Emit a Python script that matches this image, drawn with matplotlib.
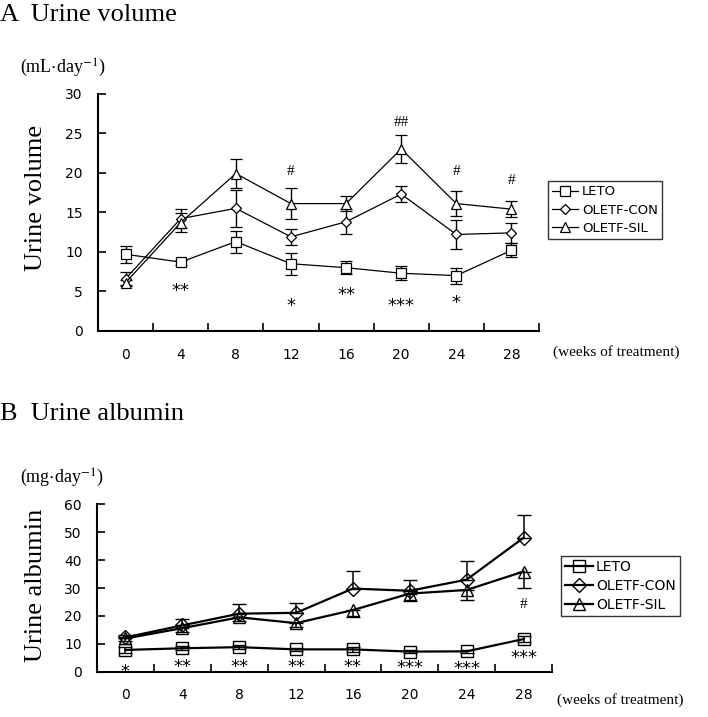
import numpy as np
import matplotlib.pyplot as plt

plt.rcParams['font.family'] = 'DejaVu Sans'
plt.rcParams['mathtext.fontset'] = 'stix'

weeks = ['0', '4', '8', '12', '16', '20', '24', '28']
groups = ['LETO', 'OLETF-CON', 'OLETF-SIL']

# A: urine volume (mL/day)
leto_vol = [9.7, 8.7, 11.3, 8.5, 8.0, 7.3, 7.0, 10.2]
leto_vol_err = [1.1, 0.3, 1.4, 1.4, 0.8, 0.9, 1.0, 0.9]
con_vol = [6.6, 14.2, 15.5, 11.9, 13.8, 17.3, 12.2, 12.4]
con_vol_err = [0.9, 1.2, 2.3, 1.0, 1.6, 1.0, 1.8, 1.3]
sil_vol = [6.1, 13.7, 19.9, 16.1, 16.1, 23.0, 16.1, 15.4]
sil_vol_err = [0.3, 1.2, 1.8, 2.0, 0.9, 1.8, 1.6, 1.0]
stars_vol = [(1, 5.0, '**'), (3, 3.2, '*'), (4, 4.5, '**'), (5, 3.2, '***'), (6, 3.6, '*')]
hash_vol = [(3, 20.2, '#'), (5, 26.4, '##'), (6, 20.2, '#'), (7, 19.0, '#')]

# B: urine albumin (mg/day)
leto_alb = [7.8, 8.4, 8.8, 8.0, 8.0, 7.2, 7.3, 11.7]
leto_alb_err = [1.0, 0.8, 0.8, 0.6, 0.8, 0.6, 0.6, 1.0]
con_alb = [12.3, 16.6, 20.8, 21.1, 29.8, 29.0, 33.0, 48.0]
con_alb_err = [1.0, 2.3, 3.4, 3.7, 6.3, 3.7, 6.6, 8.0]
sil_alb = [11.9, 15.6, 19.5, 17.4, 22.1, 28.0, 29.3, 35.9]
sil_alb_err = [0.8, 1.3, 1.5, 1.2, 2.6, 2.7, 3.6, 6.0]
stars_alb = [(0, 0.0, '*'), (1, 1.8, '**'), (2, 1.8, '**'), (3, 1.6, '**'), (4, 1.8, '**'),
             (5, 1.2, '***'), (6, 0.8, '***'), (7, 4.8, '***')]
hash_alb = [(7, 24.0, '#')]

markers = ['s', 'D', '^']
serif = 'Liberation Serif'

fig = plt.figure(figsize=(7.08, 7.17), dpi=100, facecolor='white')
axA = fig.add_axes([98/708, 1-331/717, (539-98)/708, (331-93.6)/717])
axB = fig.add_axes([97/708, 1-671.7/717, (552-97)/708, (671.7-504.3)/717])

x = np.arange(len(weeks))


def setup(ax, ymax, ystep, fs):
    ax.set_xlim(-0.5, len(weeks) - 0.5)
    ax.set_ylim(0, ymax)
    ax.set_yticks(np.arange(0, ymax + 1, ystep))
    ax.set_xticks(np.arange(-0.5, len(weeks), 1.0))
    ax.set_xticklabels([])
    ax.set_xticks(x, minor=True)
    ax.set_xticklabels(weeks, minor=True)
    ax.tick_params(axis='x', which='major', direction='in', length=6, width=1.2)
    ax.tick_params(axis='x', which='minor', length=0, pad=12, labelsize=fs)
    ax.tick_params(axis='y', direction='in', length=6, width=1.2, labelsize=fs, pad=11)
    for s in ['top', 'right']:
        ax.spines[s].set_visible(False)
    for s in ['left', 'bottom']:
        ax.spines[s].set_linewidth(1.5)


# panel A
handlesA = []
series_vol = [(leto_vol, leto_vol_err), (con_vol, con_vol_err), (sil_vol, sil_vol_err)]
for (vals, errs), m, g in zip(series_vol, markers, groups):
    ms = 7 if m != 'D' else 5.5
    eb = axA.errorbar(x, vals, yerr=errs, color='black', lw=0.9, marker=m, ms=ms,
                      mfc='white', mec='black', mew=0.9, capsize=4, elinewidth=1.0,
                      capthick=1.0, label=g)
    handlesA.append(eb[0])
setup(axA, 30, 5, 10)
for i, y, t in stars_vol:
    axA.text(i, y, t, ha='center', va='center', fontsize=13)
for i, y, t in hash_vol:
    axA.text(i, y, t, ha='center', va='center', fontsize=11, family=serif)
legA = axA.legend(handlesA, groups, loc='upper left', bbox_to_anchor=(1.02, 0.63), frameon=True,
                  fancybox=False, edgecolor='black', fontsize=9.5, handlelength=2.0, borderpad=0.3,
                  labelspacing=0.4, handletextpad=0.3, borderaxespad=0)
legA.get_frame().set_linewidth(1.0)

# panel B
handlesB = []
series_alb = [(leto_alb, leto_alb_err, 'both'), (con_alb, con_alb_err, 'up'), (sil_alb, sil_alb_err, 'down')]
for (vals, errs, side), m, g in zip(series_alb, markers, groups):
    errs = np.array(errs)
    zeros = np.zeros_like(errs)
    if side == 'up':
        yerr = [zeros, errs]
    elif side == 'down':
        yerr = [errs, zeros]
    else:
        yerr = [errs, errs]
    ms = 9 if m != 'D' else 7
    eb = axB.errorbar(x, vals, yerr=yerr, color='black', lw=1.6, marker=m, ms=ms,
                      mfc='none', mec='black', mew=1.0, capsize=5, elinewidth=1.1,
                      capthick=1.1, label=g)
    handlesB.append(eb[0])
setup(axB, 60, 10, 10)
for i, y, t in stars_alb:
    axB.text(i, y, t, ha='center', va='center', fontsize=13, clip_on=False)
for i, y, t in hash_alb:
    axB.text(i, y, t, ha='center', va='center', fontsize=11, family=serif)
legB = axB.legend(handlesB, groups, loc='upper left', bbox_to_anchor=(1.02, 0.69), frameon=True,
                  fancybox=False, edgecolor='black', fontsize=10, handlelength=2.0, borderpad=0.3,
                  labelspacing=0.35, handletextpad=0.2, borderaxespad=0)
legB.get_frame().set_linewidth(1.0)

# titles and labels
fig.text(0.0, 1-21/717, 'A  Urine volume', family=serif, fontsize=19, va='baseline', ha='left')
fig.text(20/708, 1-68/717, '(mL$\\cdot$day$^{-1}$)', family=serif, fontsize=13, va='center', ha='left')
fig.text(36/708, 1-198/717, 'Urine volume', family=serif, fontsize=19, rotation=90,
         va='center', ha='center')
fig.text(553/708, 1-352/717, '(weeks of treatment)', family=serif, fontsize=11, va='center', ha='left')

fig.text(0.0, 1-420/717, 'B  Urine albumin', family=serif, fontsize=19, va='baseline', ha='left')
fig.text(20/708, 1-478/717, '(mg$\\cdot$day$^{-1}$)', family=serif, fontsize=13, va='center', ha='left')
fig.text(36/708, 1-585/717, 'Urine albumin', family=serif, fontsize=19, rotation=90,
         va='center', ha='center')
fig.text(557/708, 1-700/717, '(weeks of treatment)', family=serif, fontsize=11, va='center', ha='left')

fig.savefig('out.png', dpi=100, facecolor='white')
